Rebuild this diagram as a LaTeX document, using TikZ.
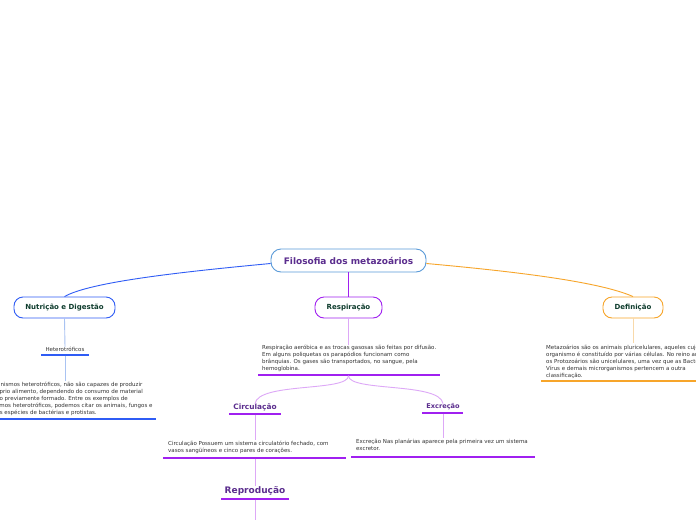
\documentclass[tikz,border=0pt]{standalone}
\usepackage{fontspec}
\setmainfont{DejaVu Sans}
\definecolor{mainblue}{HTML}{2F5CF5}
\definecolor{rootblue}{HTML}{5A9AD8}
\definecolor{lightblue}{HTML}{A9C3F2}
\definecolor{mainpurple}{HTML}{A020F0}
\definecolor{lightpurple}{HTML}{DDA8F7}
\definecolor{mainorange}{HTML}{F7A52A}
\definecolor{lightorange}{HTML}{F8D9AA}
\definecolor{titlepurple}{HTML}{5B2D8E}
\definecolor{labelgreen}{HTML}{0F3D2E}
\definecolor{bodytext}{HTML}{333333}
\tikzset{
  topic/.style={draw, line width=0.9pt, rounded corners=9pt, fill=white, minimum height=21pt, inner xsep=0pt, font=\bfseries\fontsize{7}{8}\selectfont, text=labelgreen},
  body/.style={anchor=north west, inner sep=0pt, align=left, font=\fontsize{5.5}{7}\selectfont, text=bodytext},
  sub/.style={inner sep=0pt, font=\bfseries\fontsize{7.4}{8}\selectfont, text=titlepurple},
  uline/.style={line width=1.4pt},
  conn/.style={line width=0.9pt},
}
\begin{document}
\begin{tikzpicture}[x=1pt,y=-1pt]
\useasboundingbox[fill=white] (0,0) rectangle (696,520);
% root
\node[draw=rootblue, line width=0.9pt, rounded corners=10pt, fill=white, minimum width=155pt, minimum height=23pt, font=\bfseries\fontsize{9}{10}\selectfont, text=titlepurple] (root) at (348.5,260.5) {Filosofia dos metazoários};
% level 1
\node[topic, draw=mainblue, minimum width=101pt] (nut) at (64.5,307.5) {Nutrição e Digestão};
\node[topic, draw=mainpurple, minimum width=67pt] (resp) at (348.5,307.5) {Respiração};
\node[topic, draw=mainorange, minimum width=60pt] (def) at (633,307.5) {Definição};
\draw[conn, mainblue] (root.west) ++(0,3) coordinate (rw) (rw) .. controls (180,272) and (90,282) .. (nut.north);
\draw[conn, mainpurple] (root.south) -- (resp.north);
\draw[conn, mainorange] (root.east) ++(0,3) coordinate (re) (re) .. controls (520,272) and (600,282) .. (def.north);
% Nutricao branch
\node[inner sep=0pt, font=\fontsize{5.5}{6}\selectfont, text=bodytext] (het) at (65,349.5) {Heterotróficos};
\coordinate (hetL) at (41,355); \coordinate (hetR) at (89,355);
\draw[uline, mainblue] (hetL) -- (hetR);
\draw[conn, lightblue] (nut.south) -- (het.north);
\node[body] (hettext) at (-21,381.5) {Os organismos heterotróficos, não são capazes de produzir\\seu próprio alimento, dependendo do consumo de material\\orgânico previamente formado. Entre os exemplos de\\organismos heterotróficos, podemos citar os animais, fungos e\\algumas espécies de bactérias e protistas.};
\coordinate (htL) at (0,419); \coordinate (htR) at (156,419);
\draw[uline, mainblue] (htL) -- (htR);
\coordinate (htTop) at (65,381);
\draw[conn, lightblue] (65,355.7) coordinate (hetB) (hetB) -- (htTop);
% Respiracao branch
\node[body] (resptext) at (262,345) {Respiração aeróbica e as trocas gasosas são feitas por difusão.\\Em alguns poliquetas os parapódios funcionam como\\brânquias. Os gases são transportados, no sangue, pela\\hemoglobina.};
\coordinate (rtL) at (258,375); \coordinate (rtR) at (440,375);
\coordinate (rtM) at (348.5,375.7);
\draw[uline, mainpurple] (rtL) -- (rtR);
\draw[conn, lightpurple] (resp.south) -- (348.5,345);
\node[sub] (circ) at (255,407.5) {Circulação};
\coordinate (ciL) at (229,414); \coordinate (ciR) at (281,414);
\draw[uline, mainpurple] (ciL) -- (ciR);
\node[sub, font=\bfseries\fontsize{6.6}{7}\selectfont] (excr) at (443,407) {Excreção};
\coordinate (exL) at (422,413); \coordinate (exR) at (463,413);
\draw[uline, mainpurple] (exL) -- (exR);
\draw[conn, lightpurple] (rtM) .. controls (348.5,392) and (258,382) .. (circ.north);
\draw[conn, lightpurple] (rtM) .. controls (348.5,392) and (440,382) .. (excr.north);
\node[body] (circtext) at (168,441) {Circulação Possuem um sistema circulatório fechado, com\\vasos sangüíneos e cinco pares de corações.};
\coordinate (ctL) at (163,458); \coordinate (ctR) at (346,458);
\draw[uline, mainpurple] (ctL) -- (ctR);
\draw[conn, lightpurple] (255,414.7) -- (255,440);
\node[body] (excrtext) at (356,439) {Excreção Nas planárias aparece pela primeira vez um sistema\\excretor.};
\coordinate (etL) at (351,457); \coordinate (etR) at (535,457);
\draw[uline, mainpurple] (etL) -- (etR);
\draw[conn, lightpurple] (443,413.7) -- (443,438);
\node[sub, font=\bfseries\fontsize{9}{10}\selectfont] (repr) at (255,491) {Reprodução};
\coordinate (rpL) at (221,499); \coordinate (rpR) at (289,499);
\draw[uline, mainpurple] (rpL) -- (rpR);
\draw[conn, lightpurple] (255,458.7) -- (repr.north);
\draw[conn, lightpurple] (255,499.7) -- (255,520);
% Definicao branch
\node[body] (deftext) at (546,345) {Metazoários são os animais pluricelulares, aqueles cujo\\organismo é constituído por várias células. No reino animal,\\os Protozoários são unicelulares, uma vez que as Bactérias,\\Vírus e demais microrganismos pertencem a outra\\classificação.};
\coordinate (dtL) at (541,381); \coordinate (dtR) at (696,381);
\draw[uline, mainorange] (dtL) -- (dtR);
\draw[conn, lightorange] (def.south) -- (633,343);
\end{tikzpicture}
\end{document}
